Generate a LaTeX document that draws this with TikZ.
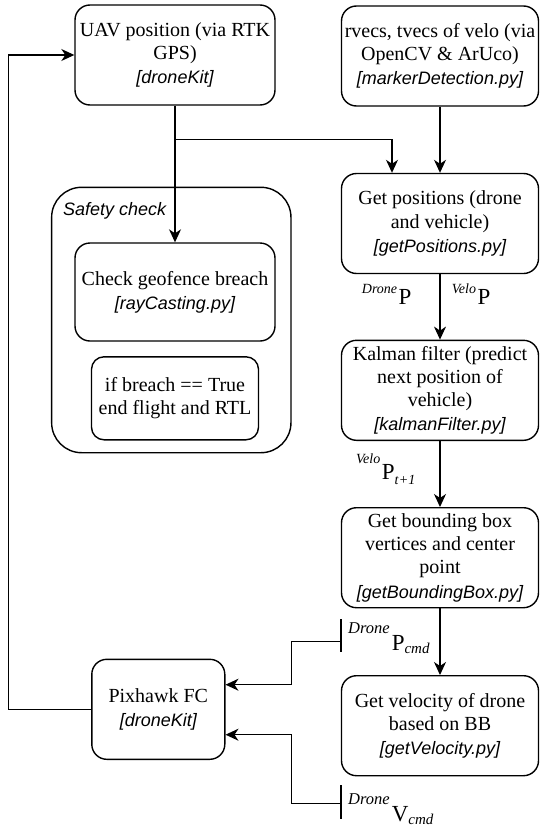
\documentclass[tikz,border=0pt]{standalone}
\usepackage[no-math]{fontspec}
\setmainfont{Liberation Serif}
\newfontfamily\lsans{Liberation Sans}
\usetikzlibrary{arrows.meta}
\newcommand{\fn}[1]{{\fontsize{18}{24}\selectfont\lsans\itshape #1}}
\newcommand{\szz}[1]{\fontsize{#1}{#1}\selectfont}
\begin{document}
\begin{tikzpicture}[x=1pt,y=-1pt,
  box/.style={draw, line width=1.4pt, rounded corners=15pt, align=center, inner sep=0pt,
              minimum width=197pt, minimum height=100pt, font=\fontsize{20}{23.3}\selectfont},
  conn/.style={line width=1.2pt},
  arr/.style={conn, -{Stealth[length=13pt,width=12pt,inset=4pt]}},
  lbl/.style={inner sep=0pt, anchor=base west}]
\useasboundingbox (0,0) rectangle (539,827);

% safety container
\node[draw, line width=1.4pt, rounded corners=30pt, minimum width=239.3pt, minimum height=265.4pt, inner sep=0pt] (safe) at (171.3,320) {};
\node[anchor=west, inner sep=0pt] (safelbl) at (63,210.7) {\fn{Safety check}};

% boxes
\node[box, minimum width=200pt] (uav) at (175,55) {UAV position (via RTK\\GPS)\\[1pt]\fn{[droneKit]}};
\node[box] (rvecs) at (440,56) {rvecs, tvecs of velo (via\\OpenCV \& ArUco)\\[1pt]\fn{[markerDetection.py]}};
\node[box] (getpos) at (440,223.5) {Get positions (drone\\and vehicle)\\[1pt]\fn{[getPositions.py]}};
\node[box] (kalman) at (440,390.3) {Kalman filter (predict\\next position of\\vehicle)\\[1pt]\fn{[kalmanFilter.py]}};
\node[box] (bbox) at (440,557.7) {Get bounding box\\vertices and center\\point\\[1pt]\fn{[getBoundingBox.py]}};
\node[box] (vel) at (440,725.7) {Get velocity of drone\\based on BB\\[1pt]\fn{[getVelocity.py]}};
\node[box, minimum width=200pt, minimum height=98pt] (geo) at (175,292) {Check geofence breach\\[1pt]\fn{[rayCasting.py]}};
\node[box, minimum width=167pt, minimum height=83pt, rounded corners=12.5pt] (breach) at (175,398.3) {if breach == True\\end flight and RTL};
\node[box, minimum width=133pt, minimum height=100pt] (pix) at (158.3,709.3) {Pixhawk FC\\[1pt]\fn{[droneKit]}};

% connectors
\coordinate (j) at (175,139.3);
\draw[arr] (uav.south) -- (geo.north);
\draw[arr] (j) -| ([xshift=-48pt]getpos.north);
\draw[arr] (rvecs.south) -- (getpos.north);
\draw[arr] (getpos.south) -- (kalman.north);
\draw[arr] (kalman.south) -- (bbox.north);
\draw[arr] (bbox.south) -- (vel.north);

\coordinate (pc) at (341,641.3);
\coordinate (pcb) at (291.7,641.3);
\draw[conn] ([yshift=22.3pt]pc) -- ([yshift=-10.7pt]pc);
\draw[arr] (pc) -- (pcb) |- ([yshift=24.6pt]pix.east);

\coordinate (vc) at (341,803.7);
\coordinate (vcb) at (291.7,803.7);
\draw[conn] ([yshift=18.7pt]vc) -- ([yshift=-15pt]vc);
\draw[arr] (vc) -- (vcb) |- ([yshift=-25.4pt]pix.east);

\coordinate (fb) at (8.3,709.3);
\draw[arr] (pix.west) -- (fb) |- (uav.west);

% labels
\node[lbl] (dp) at (361.7,304.3) {\raisebox{11pt}{\szz{14}\itshape Drone}\kern1.5pt{\szz{23}P}};
\node[lbl] (vp) at (451.7,304.3) {\raisebox{11pt}{\szz{14}\itshape Velo}\kern1.5pt{\szz{23}P}};
\node[lbl] (vpt) at (356,479.3) {\raisebox{15.5pt}{\szz{14}\itshape Velo}\kern1.5pt{\szz{23}P}\raisebox{-4.7pt}{\szz{14}\itshape t\kern0.5pt+1}};
\node[lbl] (pcmd) at (348,650.3) {\raisebox{17pt}{\szz{16.5}\itshape Drone}\kern2pt{\szz{23}P}\raisebox{-3.5pt}{\szz{15}\itshape cmd}};
\node[lbl] (vcmd) at (348,821.5) {\raisebox{17pt}{\szz{16.5}\itshape Drone}\kern2pt{\szz{23}V}\raisebox{-3pt}{\szz{15}\itshape cmd}};
\end{tikzpicture}
\end{document}
